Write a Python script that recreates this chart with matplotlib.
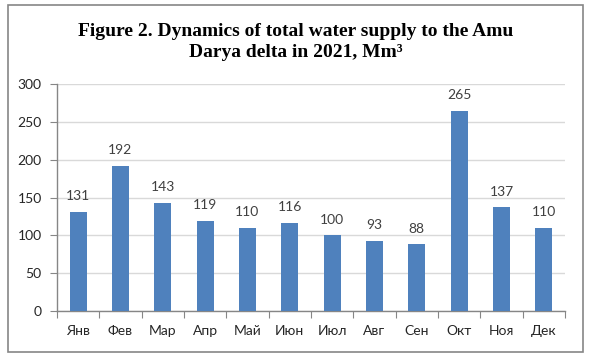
import matplotlib.pyplot as plt
from matplotlib.patches import Rectangle

months = ["Янв", "Фев", "Мар", "Апр", "Май", "Июн",
          "Июл", "Авг", "Сен", "Окт", "Ноя", "Дек"]
supply = [131, 192, 143, 119, 110, 116, 100, 93, 88, 265, 137, 110]
y_ticks = [0, 50, 100, 150, 200, 250, 300]

BAR_COLOR = "#4F81BD"
AXIS_COLOR = "#868686"
GRID_COLOR = "#D9D9D9"

plt.rcParams["font.family"] = ["Lato", "DejaVu Sans"]

fig = plt.figure(figsize=(5.91, 3.64), dpi=100)
ax = fig.add_axes([0.0964, 0.1456, 0.8596, 0.6234])

x = range(len(months))
ax.bar(x, supply, width=0.4, color=BAR_COLOR, zorder=3)
for xi, v in zip(x, supply):
    ax.text(xi, v + 13, str(v), ha="center", va="bottom", fontsize=10, color="#404040")

ax.set_xlim(-0.5, len(months) - 0.5)
ax.set_ylim(0, 300)
ax.set_yticks(y_ticks)
# category boundaries carry the tick marks, labels sit between them
ax.set_xticks([i + 0.5 for i in range(-1, len(months))])
ax.set_xticklabels([])
ax.set_xticks(list(x), minor=True)
ax.set_xticklabels(months, minor=True)
ax.tick_params(axis="x", which="major", length=5, color=AXIS_COLOR, direction="out")
ax.tick_params(axis="x", which="minor", length=0, pad=10, labelsize=10, labelcolor="#262626")
ax.tick_params(axis="y", length=5, color=AXIS_COLOR, labelsize=10, labelcolor="#262626", pad=6)

ax.grid(axis="y", color=GRID_COLOR, linewidth=1, zorder=0)
for side in ["top", "right"]:
    ax.spines[side].set_visible(False)
for side in ["left", "bottom"]:
    ax.spines[side].set_color(AXIS_COLOR)
    ax.spines[side].set_linewidth(1)

fig.text(0.5, 0.884, "Figure 2. Dynamics of total water supply to the Amu\nDarya delta in 2021, Mm³",
         ha="center", va="center", fontsize=14, fontweight="bold",
         family=["Liberation Serif", "DejaVu Serif"], linespacing=1.35)

fig.patches.append(Rectangle((0.0135, 0.033), 0.973, 0.953, transform=fig.transFigure,
                             fill=False, edgecolor=AXIS_COLOR, linewidth=1.2))

fig.savefig("out.png", dpi=100)
